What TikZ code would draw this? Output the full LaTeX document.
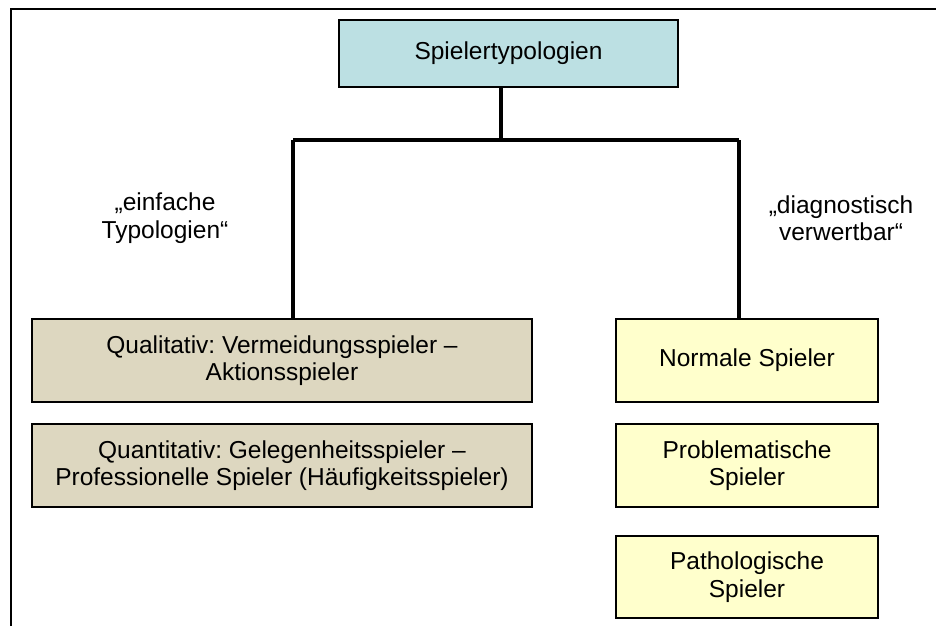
\documentclass[tikz,border=0pt]{standalone}
\usepackage{fontspec}
\setmainfont{Liberation Sans}
\frenchspacing
\definecolor{headfill}{HTML}{BCE0E3}
\definecolor{leftfill}{HTML}{DDD7C0}
\definecolor{rightfill}{HTML}{FFFFCC}
\tikzset{
  box/.style={draw=black, line width=1.1pt, inner sep=0pt, align=center,
    font=\fontsize{24.5}{27.5}\selectfont},
  headbox/.style={box, fill=headfill, minimum width=339pt, minimum height=67pt},
  leftbox/.style={box, fill=leftfill, minimum width=500pt, minimum height=83pt},
  rightbox/.style={box, fill=rightfill, minimum width=262pt, minimum height=83pt},
  branchlabel/.style={align=center, inner sep=0pt, font=\fontsize{24.5}{27.5}\selectfont},
  link/.style={draw=black, line width=3.3pt},
  frameline/.style={draw=black, line width=2pt}
}
\begin{document}
\begin{tikzpicture}[x=1pt, y=-1pt]
  \useasboundingbox (0,0) rectangle (936,626);
  % outer frame (left and top edges)
  \draw[frameline] (11,626) -- (11,9) -- (936,9);

  % boxes
  \node[headbox] (top) at (508.5,53.5) {Spielertypologien};
  \node[leftbox] (qual) at (282,360.5) {Qualitativ: Vermeidungsspieler --\\Aktionsspieler};
  \node[leftbox] (quant) at (282,465.5) {Quantitativ: Gelegenheitsspieler --\\Professionelle Spieler (Häufigkeitsspieler)};
  \node[rightbox] (norm) at (747,360.5) {Normale Spieler};
  \node[rightbox] (prob) at (747,465.5) {Problematische\\Spieler};
  \node[rightbox, minimum height=82pt] (path) at (747,577) {Pathologische\\Spieler};

  % branch labels
  \node[branchlabel] (lblleft) at (165,218) {„einfache\\Typologien“};
  \node[branchlabel] (lblright) at (841,218) {„diagnostisch\\verwertbar“};

  % tree connectors
  \coordinate (tj) at (501,140);
  \coordinate (lj) at (293,140);
  \coordinate (rj) at (739,140);
  \draw[link] (tj |- top.south) -- (tj);
  \draw[link] (lj) -- (rj);
  \draw[link] (lj) -- (lj |- qual.north);
  \draw[link] (rj) -- (rj |- norm.north);
\end{tikzpicture}
\end{document}
